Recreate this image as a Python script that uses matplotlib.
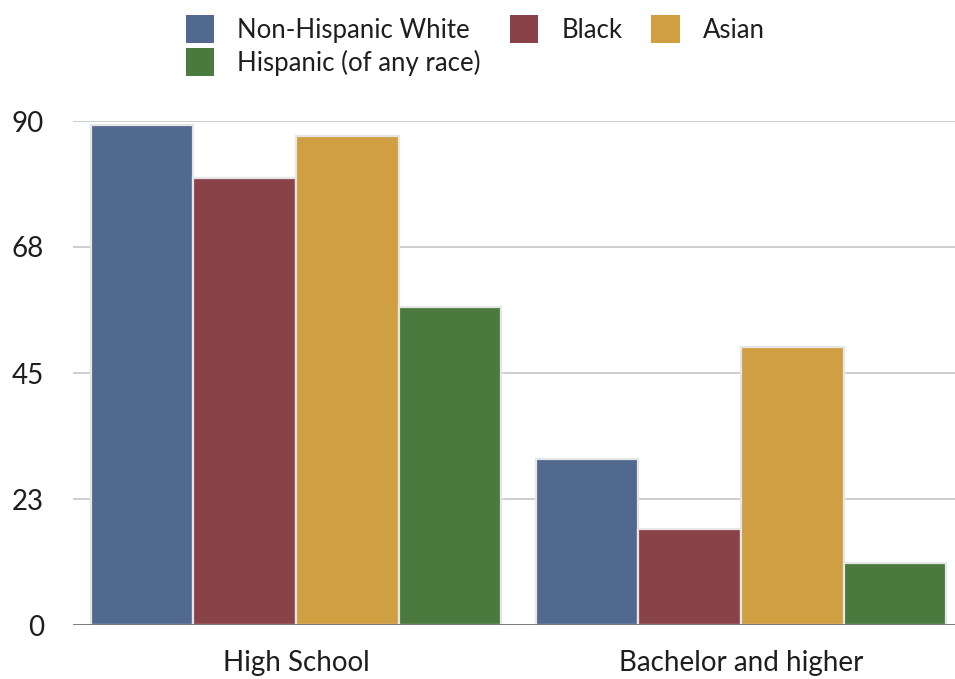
"""Educational attainment by race: grouped bar chart."""

import matplotlib.pyplot as plt
import numpy as np

plt.rcParams["font.family"] = ["Lato", "DejaVu Sans"]

CATEGORIES = ["High School", "Bachelor and higher"]
SERIES = ["Non-Hispanic White", "Black", "Asian", "Hispanic (of any race)"]
WHITE = [89.2, 29.6]
BLACK = [79.8, 17.1]
ASIAN = [87.3, 49.6]
HISPANIC = [56.8, 11.1]
Y_TICKS = [0, 22.5, 45, 67.5, 90]
Y_TICK_LABELS = ["0", "23", "45", "68", "90"]

COLORS = ["#52698f", "#8a4249", "#cf9f42", "#4a7a3e"]
TEXT = "#1e1e1e"

fig = plt.figure(figsize=(9.55, 6.79), dpi=100)
ax = fig.add_axes([73 / 955, 54 / 679, 882 / 955, 504 / 679])

x = np.arange(len(CATEGORIES))
slot = 0.2305
handles = []
for i, (name, vals, color) in enumerate(zip(SERIES, [WHITE, BLACK, ASIAN, HISPANIC], COLORS)):
    bars = ax.bar(x + (i - 1.5) * slot, vals, width=slot, color=color,
                  edgecolor="#e6e6e6", linewidth=1.6, label=name, zorder=3)
    handles.append(bars)

ax.set_xlim(-0.501, 1.481)
ax.set_ylim(0, 90)
ax.set_yticks(Y_TICKS)
ax.set_yticklabels(Y_TICK_LABELS)
ax.set_xticks(x)
ax.set_xticklabels(CATEGORIES)
ax.tick_params(axis="y", length=0, pad=21, labelsize=20, labelcolor=TEXT)
ax.tick_params(axis="x", length=0, pad=18, labelsize=20, labelcolor=TEXT)

for y in Y_TICKS[1:]:
    ax.axhline(y, color="#c9c9c9", linewidth=1.3, zorder=1)
ax.axhline(0, color="#555555", linewidth=1.8, zorder=4)

for side in ["top", "right", "left", "bottom"]:
    ax.spines[side].set_visible(False)

# column-major fill so row one reads White, Black, Asian
order = [0, 3, 1, 2]
leg = fig.legend([handles[k] for k in order], [SERIES[k] for k in order],
                 loc="upper left", bbox_to_anchor=(186 / 955, 1 - 15 / 679), ncol=3,
                 frameon=False, fontsize=18.5, handlelength=1.1, handleheight=1.3,
                 handletextpad=0.9, columnspacing=1.13, labelspacing=0.2,
                 borderpad=0, borderaxespad=0, labelcolor=TEXT)
for patch in leg.get_patches():
    patch.set_edgecolor("none")

fig.savefig("out.png", dpi=100)
